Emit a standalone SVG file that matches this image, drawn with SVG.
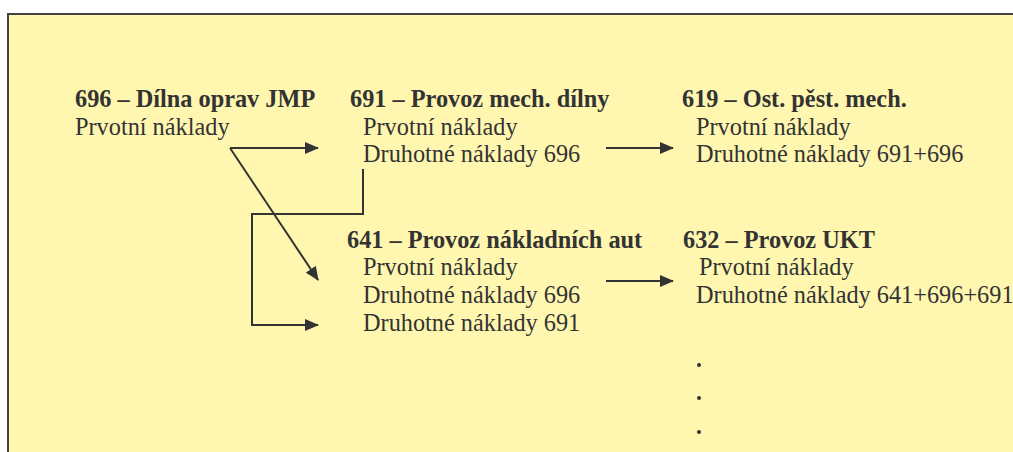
<svg xmlns="http://www.w3.org/2000/svg" width="1013" height="452" viewBox="0 0 1013 452">
  <style>
    .t { font-family: "Liberation Serif", "Times New Roman", Times, serif; font-size: 24.3px; fill: #333333; }
    .b { font-weight: bold; }
    .ln { fill: none; stroke: #333333; stroke-width: 2; }
  </style>
  <defs>
    <marker id="arr" viewBox="0 0 14 12" refX="13" refY="6" markerWidth="14" markerHeight="12" markerUnits="userSpaceOnUse" orient="auto">
      <path d="M0,0 L14,6 L0,12 z" fill="#333333"/>
    </marker>
  </defs>
  <rect width="1013" height="452" fill="#ffffff"/>
  <!-- panel -->
  <rect x="8" y="14" width="1020" height="460" fill="#fff7b0" stroke="#444444" stroke-width="2"/>

  <g id="n696">
    <text class="t b" x="75" y="107">696 – Dílna oprav JMP</text>
    <text class="t" x="75" y="135">Prvotní náklady</text>
  </g>
  <g id="n691">
    <text class="t b" x="350" y="107">691 – Provoz mech. dílny</text>
    <text class="t" x="363" y="135">Prvotní náklady</text>
    <text class="t" x="363" y="162">Druhotné náklady 696</text>
  </g>
  <g id="n619">
    <text class="t b" x="682" y="107">619 – Ost. pěst. mech.</text>
    <text class="t" x="696" y="135">Prvotní náklady</text>
    <text class="t" x="696" y="162">Druhotné náklady 691+696</text>
  </g>
  <g id="n641">
    <text class="t b" x="347" y="248">641 – Provoz nákladních aut</text>
    <text class="t" x="363" y="275">Prvotní náklady</text>
    <text class="t" x="363" y="303">Druhotné náklady 696</text>
    <text class="t" x="363" y="331">Druhotné náklady 691</text>
  </g>
  <g id="n632">
    <text class="t b" x="683" y="248">632 – Provoz UKT</text>
    <text class="t" x="699" y="275">Prvotní náklady</text>
    <text class="t" x="696" y="303">Druhotné náklady 641+696+691</text>
    <circle cx="699" cy="365" r="2" fill="#333333"/>
    <circle cx="699" cy="398" r="2" fill="#333333"/>
    <circle cx="699" cy="432" r="2" fill="#333333"/>
  </g>

  <g id="connectors">
    <path class="ln" d="M230,148 L318,148" marker-end="url(#arr)"/>
    <path class="ln" d="M230,148 L318,280" marker-end="url(#arr)"/>
    <path class="ln" d="M363,169 L363,214 L252,214 L252,325 L318,325" marker-end="url(#arr)"/>
    <path class="ln" d="M606,148 L673,148" marker-end="url(#arr)"/>
    <path class="ln" d="M606,281 L673,281" marker-end="url(#arr)"/>
  </g>
</svg>
